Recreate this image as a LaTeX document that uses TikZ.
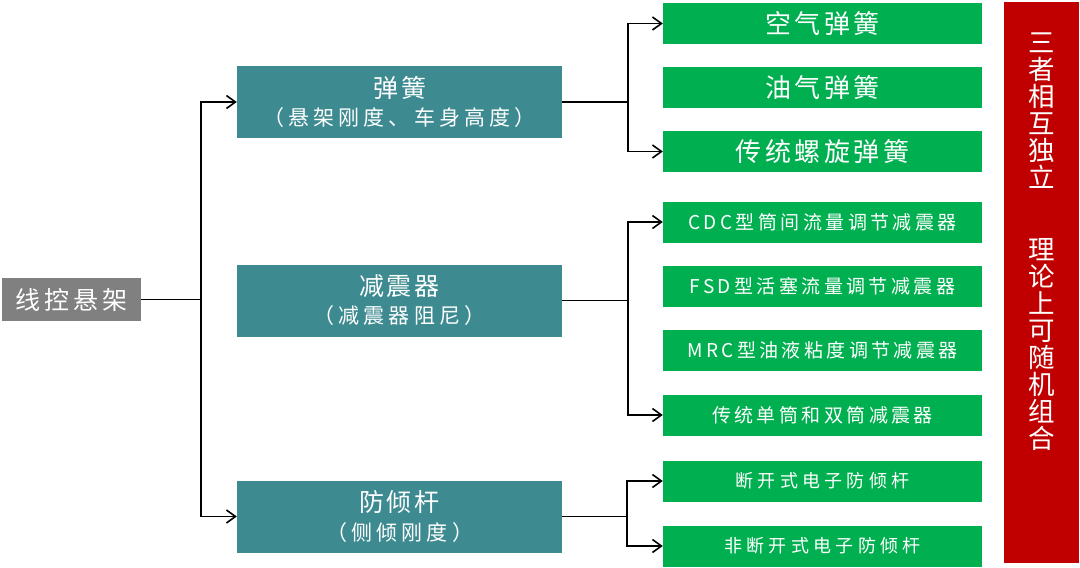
\documentclass[tikz,border=0pt]{standalone}
\usepackage{fontspec}
\setmainfont{Noto Sans CJK SC}
\usetikzlibrary{arrows.meta}

\tikzset{
  box/.style={draw=none,text=white,inner sep=0pt,align=center},
  rootbox/.style={box,fill=black!50,minimum width=139pt,minimum height=43pt,
    font=\fontsize{25}{28}\selectfont\addfontfeatures{LetterSpace=16}},
  groupbox/.style={box,fill=tealbox,minimum width=325pt,minimum height=72pt},
  itembox/.style={box,fill=greenbox,minimum width=319pt,minimum height=41pt},
  bigitem/.style={itembox,font=\fontsize{26}{28}\selectfont\addfontfeatures{LetterSpace=14}},
  miditem/.style={itembox,font=\fontsize{19}{22}\selectfont\addfontfeatures{LetterSpace=18}},
  smallitem/.style={itembox,font=\fontsize{18}{22}\selectfont\addfontfeatures{LetterSpace=24}},
  link/.style={line width=1.6pt},
  linkarrow/.style={link,-{Straight Barb[length=9pt,width=13pt,line width=1.6pt]}}
}
\definecolor{tealbox}{HTML}{3D8B91}
\definecolor{greenbox}{HTML}{00B050}
\definecolor{redbox}{HTML}{C00000}

\newcommand{\grouptext}[2]{{\fontsize{25}{28}\selectfont\addfontfeatures{LetterSpace=12}#1}\\[7pt]{\fontsize{21}{24}\selectfont\addfontfeatures{LetterSpace=20}#2}}
\newcommand{\notefont}{\fontsize{26.5}{27}\selectfont\setlength{\lineskiplimit}{-20pt}}

\begin{document}
\begin{tikzpicture}[x=1pt,y=-1pt]
  \useasboundingbox (0,0) rectangle (1080,568);

  % Root
  \node[rootbox] (root) at (71.5,299.5) {线控悬架};

  % Three sub-systems
  \node[groupbox] (spring) at (399.5,102) {\grouptext{弹簧}{（悬架刚度、车身高度）}};
  \node[groupbox] (damper) at (399.5,300.5) {\grouptext{减震器}{（减震器阻尼）}};
  \node[groupbox] (roll) at (399.5,516.5) {\grouptext{防倾杆}{（侧倾刚度）}};

  % Spring types
  \node[bigitem] (air) at (822.5,23.5) {空气弹簧};
  \node[bigitem] (oil) at (822.5,87.5) {油气弹簧};
  \node[bigitem] (coil) at (822.5,151.5) {传统螺旋弹簧};

  % Damper types
  \node[miditem] (cdc) at (822.5,222) {CDC型筒间流量调节减震器};
  \node[miditem] (fsd) at (822.5,286) {FSD型活塞流量调节减震器};
  \node[miditem] (mrc) at (822.5,350) {MRC型油液粘度调节减震器};
  \node[miditem] (tube) at (822.5,415) {传统单筒和双筒减震器};

  % Anti-roll bar types
  \node[smallitem] (disc) at (822.5,481) {断开式电子防倾杆};
  \node[smallitem] (nodisc) at (822.5,546) {非断开式电子防倾杆};

  % Side note
  \node[box,fill=redbox,minimum width=75pt,minimum height=561pt] (notebar) at (1041.5,282.5) {};
  \node[text=white,inner sep=0pt,align=center,anchor=north,font=\notefont] (note) at (1041.5,33)
        {三\\者\\相\\互\\独\\立\\[45pt]理\\论\\上\\可\\随\\机\\组\\合};

  % Connectors
  \coordinate (j1) at (201,299.5);
  \coordinate (j2) at (628,102);
  \coordinate (j3) at (628,300.5);
  \coordinate (j4) at (627,516.5);

  \draw[link] (root.east) -- (j1);
  \draw[linkarrow] (j1) |- (spring.west);
  \draw[linkarrow] (j1) |- (roll.west);

  \draw[link] (spring.east) -- (j2);
  \draw[linkarrow] (j2) |- (air.west);
  \draw[linkarrow] (j2) |- (coil.west);

  \draw[link] (damper.east) -- (j3);
  \draw[linkarrow] (j3) |- (cdc.west);
  \draw[linkarrow] (j3) |- (tube.west);

  \draw[link] (roll.east) -- (j4);
  \draw[linkarrow] (j4) |- (disc.west);
  \draw[linkarrow] (j4) |- (nodisc.west);

\end{tikzpicture}
\end{document}
